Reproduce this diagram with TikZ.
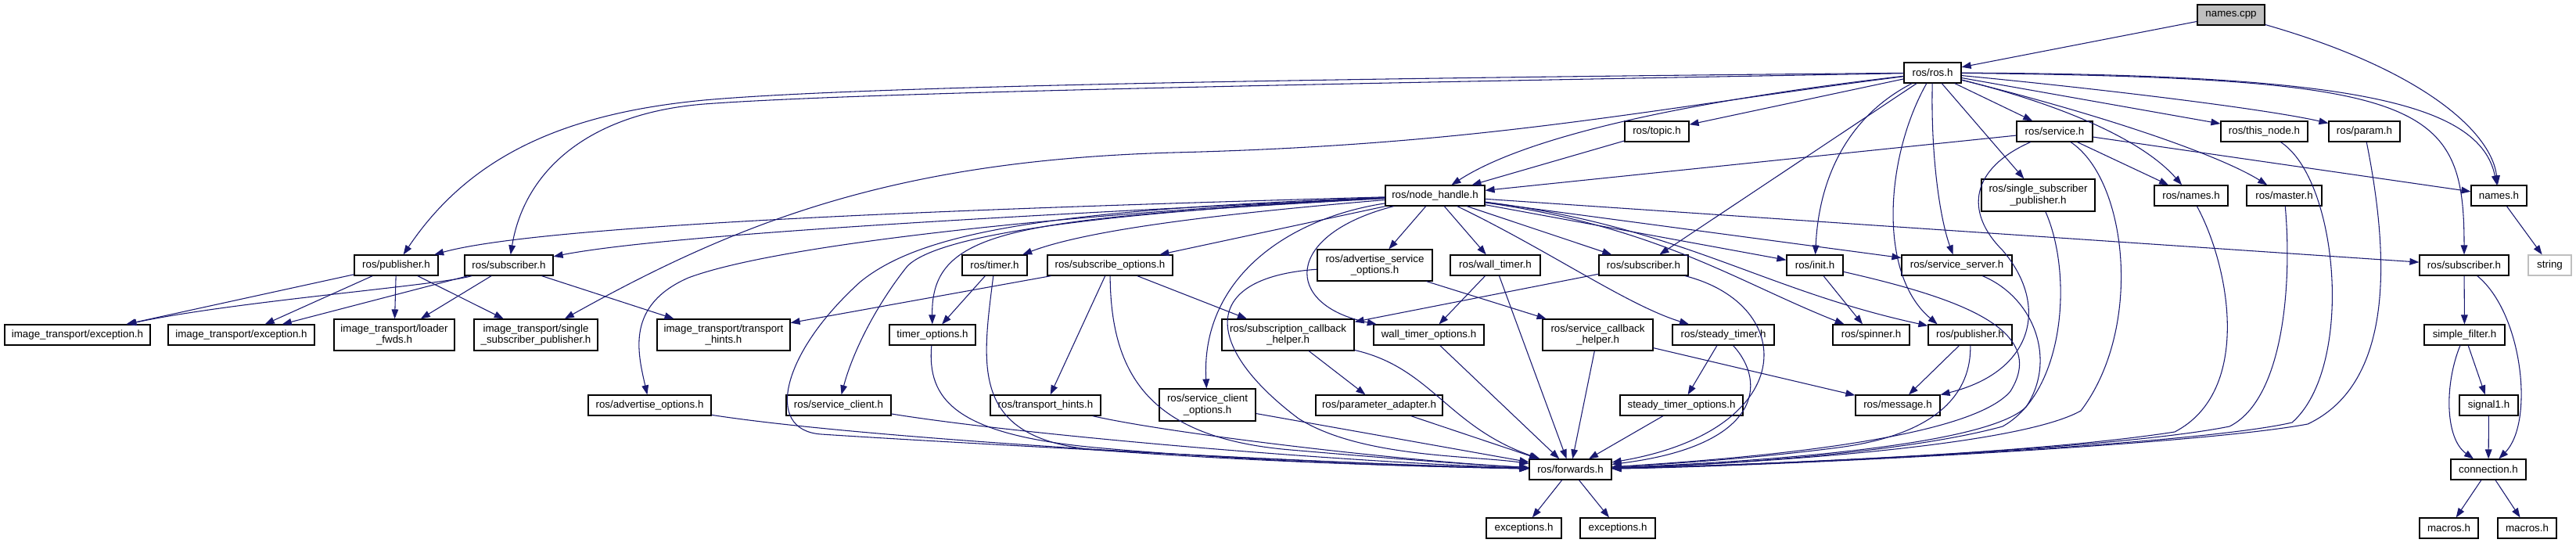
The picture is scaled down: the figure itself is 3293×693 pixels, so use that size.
\documentclass[tikz,border=0pt]{standalone}
\usepackage{fontspec}
\setmainfont{Liberation Sans}
\usetikzlibrary{arrows.meta}
\definecolor{edgec}{HTML}{191970}
\definecolor{grayfill}{HTML}{BFBFBF}
\tikzset{
  box/.style={draw=black, line width=0.9pt, fill=white, inner sep=1pt, align=center,
    font=\fontsize{10}{11}\selectfont},
  conn/.style={draw=edgec, line width=0.8pt, -{Triangle[length=9pt,width=6.5pt]}}
}
\newcommand\mkbox[7][]{\node[box,#1,minimum width={(#5-#3)*0.75pt},minimum height={(#6-#4)*0.75pt}] (#2) at ({(#3+#5)/2},{(#4+#6)/2}) {#7};}
\begin{document}
\begin{tikzpicture}[x=0.75pt,y=-0.75pt]
\useasboundingbox (0,0) rectangle (3293,693);
% nodes
\mkbox[fill=grayfill]{namescpp}{2809}{6}{2895}{32}{names.cpp}
\mkbox{rosh}{2434}{80}{2507}{106}{ros/ros.h}
\mkbox{topic}{2077}{155}{2159}{181}{ros/topic.h}
\mkbox{service}{2578}{155}{2675}{181}{ros/service.h}
\mkbox{thisnode}{2839}{155}{2950}{181}{ros/this\_node.h}
\mkbox{param}{2977}{155}{3068}{181}{ros/param.h}
\mkbox{nodeh}{1771}{237}{1898}{263}{ros/node\_handle.h}
\mkbox{rssp}{2533}{229}{2678}{270}{ros/single\_subscriber\\\_publisher.h}
\mkbox{rnames}{2754}{237}{2848}{263}{ros/names.h}
\mkbox{master}{2872}{237}{2968}{263}{ros/master.h}
\mkbox{namesh}{3159}{237}{3230}{263}{names.h}
\mkbox{pubL}{453}{326}{560}{352}{ros/publisher.h}
\mkbox{subL}{594}{326}{707}{352}{ros/subscriber.h}
\mkbox{timer}{1230}{326}{1313}{352}{ros/timer.h}
\mkbox{subopt}{1339}{326}{1499}{352}{ros/subscribe\_options.h}
\mkbox{advsopt}{1684}{319}{1831}{359}{ros/advertise\_service\\\_options.h}
\mkbox{walltimer}{1854}{326}{1969}{352}{ros/wall\_timer.h}
\mkbox{subM}{2044}{326}{2158}{352}{ros/subscriber.h}
\mkbox{init}{2284}{326}{2356}{352}{ros/init.h}
\mkbox{sserver}{2431}{326}{2572}{352}{ros/service\_server.h}
\mkbox{subR}{3093}{326}{3207}{352}{ros/subscriber.h}
\mkbox[draw=grayfill]{string}{3232}{326}{3287}{352}{string}
\mkbox{itexA}{6}{415}{192}{441}{image\_transport/exception.h}
\mkbox{itexB}{215}{415}{402}{441}{image\_transport/exception.h}
\mkbox{itloader}{427}{408}{581}{448}{image\_transport/loader\\\_fwds.h}
\mkbox{itssp}{606}{408}{764}{448}{image\_transport/single\\\_subscriber\_publisher.h}
\mkbox{ittransport}{840}{408}{1010}{448}{image\_transport/transport\\\_hints.h}
\mkbox{timeropt}{1137}{415}{1247}{441}{timer\_options.h}
\mkbox{sch}{1562}{408}{1731}{448}{ros/subscription\_callback\\\_helper.h}
\mkbox{wtopt}{1756}{415}{1897}{441}{wall\_timer\_options.h}
\mkbox{scbh}{1972}{408}{2113}{448}{ros/service\_callback\\\_helper.h}
\mkbox{steadytimer}{2138}{415}{2268}{441}{ros/steady\_timer.h}
\mkbox{spinner}{2343}{415}{2441}{441}{ros/spinner.h}
\mkbox{pubR}{2465}{415}{2572}{441}{ros/publisher.h}
\mkbox{simplefilter}{3099}{415}{3202}{441}{simple\_filter.h}
\mkbox{advopt}{752}{505}{909}{531}{ros/advertise\_options.h}
\mkbox{sclient}{1005}{505}{1139}{531}{ros/service\_client.h}
\mkbox{rtransport}{1266}{505}{1407}{531}{ros/transport\_hints.h}
\mkbox{scliopt}{1482}{497}{1605}{538}{ros/service\_client\\\_options.h}
\mkbox{padapter}{1682}{505}{1844}{531}{ros/parameter\_adapter.h}
\mkbox{stopt}{2071}{505}{2228}{531}{steady\_timer\_options.h}
\mkbox{message}{2372}{505}{2480}{531}{ros/message.h}
\mkbox{signal}{3144}{505}{3219}{531}{signal1.h}
\mkbox{forwards}{1955}{587}{2060}{613}{ros/forwards.h}
\mkbox{connection}{3133}{587}{3229}{613}{connection.h}
\mkbox{excA}{1900}{662}{1996}{688}{exceptions.h}
\mkbox{excB}{2020}{662}{2116}{688}{exceptions.h}
\mkbox{macA}{3093}{662}{3168}{688}{macros.h}
\mkbox{macB}{3193}{662}{3268}{688}{macros.h}
% names.cpp
\draw[conn] (namescpp) -- (rosh);
\draw[conn] (namescpp) .. controls (3100,90) and (3185,170) .. (namesh);
% ros.h
\draw[conn] (rosh) .. controls (1700,100) and (1100,110) .. (900,128) .. controls (720,145) and (600,200) .. (pubL);
\draw[conn] (rosh) .. controls (1700,107) and (1100,118) .. (900,133) .. controls (750,145) and (670,220) .. (subL);
\draw[conn] (rosh) .. controls (2100,140) and (1900,185) .. (1500,195) .. controls (1150,205) and (950,280) .. (itssp);
\draw[conn] (rosh) -- (topic);
\draw[conn] (rosh) .. controls (2150,130) and (1950,175) .. (nodeh);
\draw[conn] (rosh) -- (service);
\draw[conn] (rosh) -- (rssp);
\draw[conn] (rosh) .. controls (2640,135) and (2740,180) .. (rnames);
\draw[conn] (rosh) .. controls (2700,150) and (2840,200) .. (master);
\draw[conn] (rosh) -- (thisnode);
\draw[conn] (rosh) .. controls (2700,115) and (2900,140) .. (param);
\draw[conn] (rosh) .. controls (3000,95) and (3170,130) .. (namesh);
\draw[conn] (rosh) .. controls (3100,100) and (3150,130) .. (subR);
\draw[conn] (rosh) .. controls (2360,150) and (2325,230) .. (init);
\draw[conn] (rosh) .. controls (2468,200) and (2480,280) .. (sserver);
\draw[conn] (rosh) -- (subM);
\draw[conn] (rosh) .. controls (2410,200) and (2400,350) .. (pubR.162);
% service
\draw[conn] (service) -- (nodeh);
\draw[conn] (service) .. controls (2520,215) and (2510,270) .. (2560,320) .. controls (2620,390) and (2600,475) .. (message);
\draw[conn] (service) -- (rnames);
\draw[conn] (service) -- (namesh);
\draw[conn] (service) .. controls (2720,230) and (2740,420) .. (2660,525) .. controls (2580,570) and (2250,592) .. (forwards);
% topic, names.h
\draw[conn] (topic) -- (nodeh);
\draw[conn] (namesh) -- (string);
% node_handle
\draw[conn] (nodeh) .. controls (1300,265) and (700,285) .. (pubL);
\draw[conn] (nodeh) .. controls (1300,275) and (850,300) .. (subL);
\draw[conn] (nodeh) .. controls (1400,270) and (1000,310) .. (880,355) .. controls (800,390) and (815,450) .. (advopt);
\draw[conn] (nodeh) .. controls (1400,272) and (1200,300) .. (1160,340) .. controls (1120,390) and (1090,450) .. (sclient);
\draw[conn] (nodeh) .. controls (1350,268) and (1180,295) .. (1100,360) .. controls (1000,450) and (975,550) .. (1050,555) .. controls (1200,565) and (1750,595) .. (forwards);
\draw[conn] (nodeh) .. controls (1300,280) and (1190,290) .. (timeropt);
\draw[conn] (nodeh) .. controls (1600,270) and (1400,290) .. (timer);
\draw[conn] (nodeh) -- (subopt);
\draw[conn] (nodeh) .. controls (1640,280) and (1535,360) .. (scliopt);
\draw[conn] (nodeh) .. controls (1640,300) and (1640,390) .. (wtopt);
\draw[conn] (nodeh) -- (advsopt);
\draw[conn] (nodeh) -- (walltimer);
\draw[conn] (nodeh) -- (subM);
\draw[conn] (nodeh) .. controls (1980,320) and (2080,390) .. (steadytimer);
\draw[conn] (nodeh) -- (init);
\draw[conn] (nodeh) -- (sserver);
\draw[conn] (nodeh) -- (subR);
\draw[conn] (nodeh) .. controls (2120,290) and (2220,360) .. (spinner);
\draw[conn] (nodeh) .. controls (2150,290) and (2250,370) .. (pubR);
% subscribe_options
\draw[conn] (subopt) -- (ittransport);
\draw[conn] (subopt) -- (sch);
\draw[conn] (subopt) -- (rtransport);
\draw[conn] (subopt) .. controls (1420,480) and (1470,560) .. (1650,575) .. controls (1800,588) and (1900,595) .. (forwards);
% timer
\draw[conn] (timer) -- (timeropt);
\draw[conn] (timer) .. controls (1255,470) and (1240,560) .. (1400,575) .. controls (1600,590) and (1800,596) .. (forwards);
\draw[conn] (timeropt) .. controls (1185,510) and (1220,555) .. (1400,572) .. controls (1600,590) and (1800,596) .. (forwards);
\draw[conn] (sclient) .. controls (1300,555) and (1700,590) .. (forwards);
\draw[conn] (advopt) .. controls (1100,560) and (1600,590) .. (forwards);
\draw[conn] (rtransport) .. controls (1500,555) and (1800,590) .. (forwards);
\draw[conn] (scliopt) -- (forwards);
% advertise_service_options
\draw[conn] (advsopt) -- (scbh);
\draw[conn] (advsopt) .. controls (1530,355) and (1540,445) .. (1660,535) .. controls (1740,585) and (1880,582) .. (forwards);
% helpers
\draw[conn] (sch) -- (padapter);
\draw[conn] (sch) .. controls (1830,470) and (1850,545) .. (forwards);
\draw[conn] (wtopt) -- (forwards);
\draw[conn] (walltimer) -- (wtopt);
\draw[conn] (walltimer) -- (forwards);
\draw[conn] (scbh) -- (forwards);
\draw[conn] (scbh) -- (message);
\draw[conn] (padapter) -- (forwards);
\draw[conn] (stopt) -- (forwards);
\draw[conn] (steadytimer) -- (stopt);
\draw[conn] (steadytimer) .. controls (2260,490) and (2250,570) .. (forwards);
\draw[conn] (subM) -- (sch);
\draw[conn] (subM) .. controls (2300,390) and (2300,550) .. (forwards);
\draw[conn] (init) -- (spinner);
\draw[conn] (init) .. controls (2500,380) and (2620,420) .. (2570,500) .. controls (2520,560) and (2250,585) .. (forwards);
\draw[conn] (sserver) .. controls (2600,380) and (2630,460) .. (2590,520) .. controls (2540,570) and (2250,590) .. (forwards);
\draw[conn] (pubR) -- (message);
\draw[conn] (pubR) .. controls (2520,500) and (2480,555) .. (2350,572) .. controls (2250,585) and (2150,592) .. (forwards);
\draw[conn] (rssp) .. controls (2650,350) and (2640,500) .. (2560,545) .. controls (2450,575) and (2250,592) .. (forwards);
\draw[conn] (rnames) .. controls (2850,340) and (2880,500) .. (2780,552) .. controls (2600,580) and (2250,594) .. (forwards);
\draw[conn] (master) .. controls (2930,360) and (2920,510) .. (2850,545) .. controls (2700,575) and (2250,594) .. (forwards);
\draw[conn] (thisnode) .. controls (2990,230) and (3010,470) .. (2930,540) .. controls (2800,570) and (2250,595) .. (forwards);
\draw[conn] (param) .. controls (3055,330) and (3060,490) .. (2950,542) .. controls (2800,570) and (2250,596) .. (forwards);
% image_transport
\draw[conn] (pubL) -- (itexA);
\draw[conn] (pubL) -- (itexB);
\draw[conn] (pubL) -- (itloader);
\draw[conn] (pubL) -- (itssp);
\draw[conn] (subL) .. controls (560,365) and (300,385) .. (itexA);
\draw[conn] (subL) -- (itexB);
\draw[conn] (subL) -- (itloader);
\draw[conn] (subL) -- (ittransport);
% right cluster
\draw[conn] (subR) -- (simplefilter);
\draw[conn] (subR) .. controls (3225,400) and (3240,540) .. (connection);
\draw[conn] (simplefilter) -- (signal);
\draw[conn] (simplefilter) .. controls (3125,490) and (3125,560) .. (connection);
\draw[conn] (signal) -- (connection);
\draw[conn] (connection) -- (macA);
\draw[conn] (connection) -- (macB);
\draw[conn] (forwards) -- (excA);
\draw[conn] (forwards) -- (excB);
\end{tikzpicture}
\end{document}
